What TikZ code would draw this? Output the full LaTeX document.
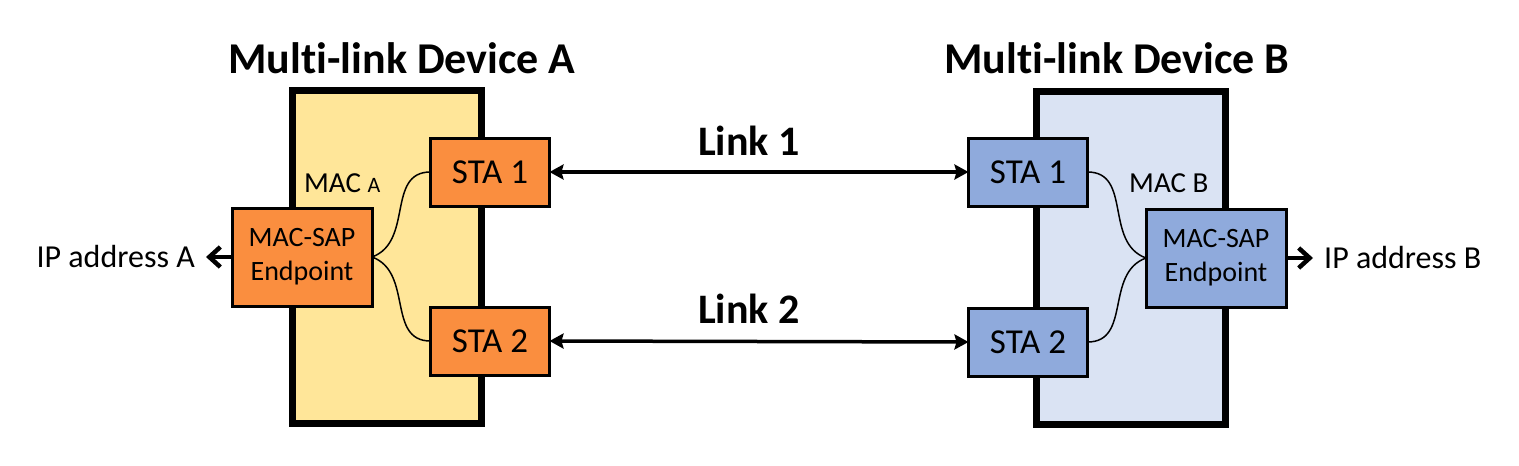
\documentclass[tikz,border=0pt]{standalone}
\usepackage{fontspec}
\setmainfont{Carlito}[Ligatures=CommonOff]
\usetikzlibrary{arrows.meta}
\definecolor{yel}{HTML}{FFE699}
\definecolor{org}{HTML}{FA8E3F}
\definecolor{lblue}{HTML}{DAE3F3}
\definecolor{mblue}{HTML}{8FAADC}
\tikzset{
  x=1pt, y=-1pt,
  device/.style={draw=black, line width=7pt, minimum width=189pt, minimum height=333pt, inner sep=0pt, outer sep=0pt},
  sta/.style={draw=black, line width=3pt, minimum width=119pt, minimum height=68pt, inner sep=0pt, outer sep=0pt, font=\fontsize{35}{40}\selectfont},
  sap/.style={draw=black, line width=3pt, minimum width=140pt, minimum height=98pt, inner sep=0pt, outer sep=0pt, align=center, font=\fontsize{28}{34}\selectfont},
  title/.style={font=\bfseries\fontsize{44}{50}\selectfont, inner sep=0pt},
  linklbl/.style={font=\bfseries\fontsize{42}{48}\selectfont, inner sep=0pt},
  iplbl/.style={font=\fontsize{32}{36}\selectfont, inner sep=0pt},
  link/.style={line width=3.5pt, {Stealth[length=14pt,width=15pt,inset=2pt]}-{Stealth[length=14pt,width=15pt,inset=2pt]}},
  ip/.style={line width=3.5pt, -{Straight Barb[length=11pt,width=20pt,line width=4.5pt]}},
  wire/.style={line width=1.5pt}
}
\begin{document}
\begin{tikzpicture}
\useasboundingbox (0,0) rectangle (1519,466);
\fill[white] (0,0) rectangle (1519,466);
% devices
\node[device, fill=yel] (devA) at (387,257) {};
\node[device, fill=lblue] (devB) at (1131,258) {};
\node[title, anchor=base] (tA) at (402,73) {Multi-link Device A};
\node[title, anchor=base] (tB) at (1117,73) {Multi-link Device B};
% nodes A
\node[sta, fill=org] (a1) at (490,172) {STA 1};
\node[sta, fill=org] (a2) at (490,341) {STA 2};
\node[sap, fill=org] (sapA) at (302,257) {MAC-SAP\\Endpoint};
% nodes B
\node[sta, fill=mblue] (b1) at (1028,172) {STA 1};
\node[sta, fill=mblue] (b2) at (1028,342) {STA 2};
\node[sap, fill=mblue] (sapB) at (1216,258) {MAC-SAP\\Endpoint};
% MAC labels
\node[anchor=base west, inner sep=0pt, font=\fontsize{29}{34}\selectfont] (macA) at (304,192) {MAC {\fontsize{22}{24}\selectfont A}};
\node[anchor=base west, inner sep=0pt, font=\fontsize{29}{34}\selectfont] (macB) at (1129,192) {MAC B};
% wires
\draw[wire] (sapA.east) to[out=20,in=180,looseness=1.1] (a1.west);
\draw[wire] (sapA.east) to[out=-20,in=180,looseness=1.1] (a2.west);
\draw[wire] (b1.east) to[out=0,in=160,looseness=1.1] (sapB.west);
\draw[wire] (b2.east) to[out=0,in=200,looseness=1.1] (sapB.west);
% links
\draw[link] (a1.east) -- (b1.west);
\draw[link] (a2.east) -- (b2.west);
\node[linklbl, anchor=base] (l1) at (749,155) {Link 1};
\node[linklbl, anchor=base] (l2) at (749,323) {Link 2};
% IP
\coordinate (ipA) at (206,257);
\coordinate (ipB) at (1313,258);
\draw[ip] (sapA.west) -- (ipA);
\draw[ip] (sapB.east) -- (ipB);
\node[iplbl, anchor=base east] (tipA) at (195,267) {IP address A};
\node[iplbl, anchor=base west] (tipB) at (1324,268) {IP address B};
\end{tikzpicture}
\end{document}
